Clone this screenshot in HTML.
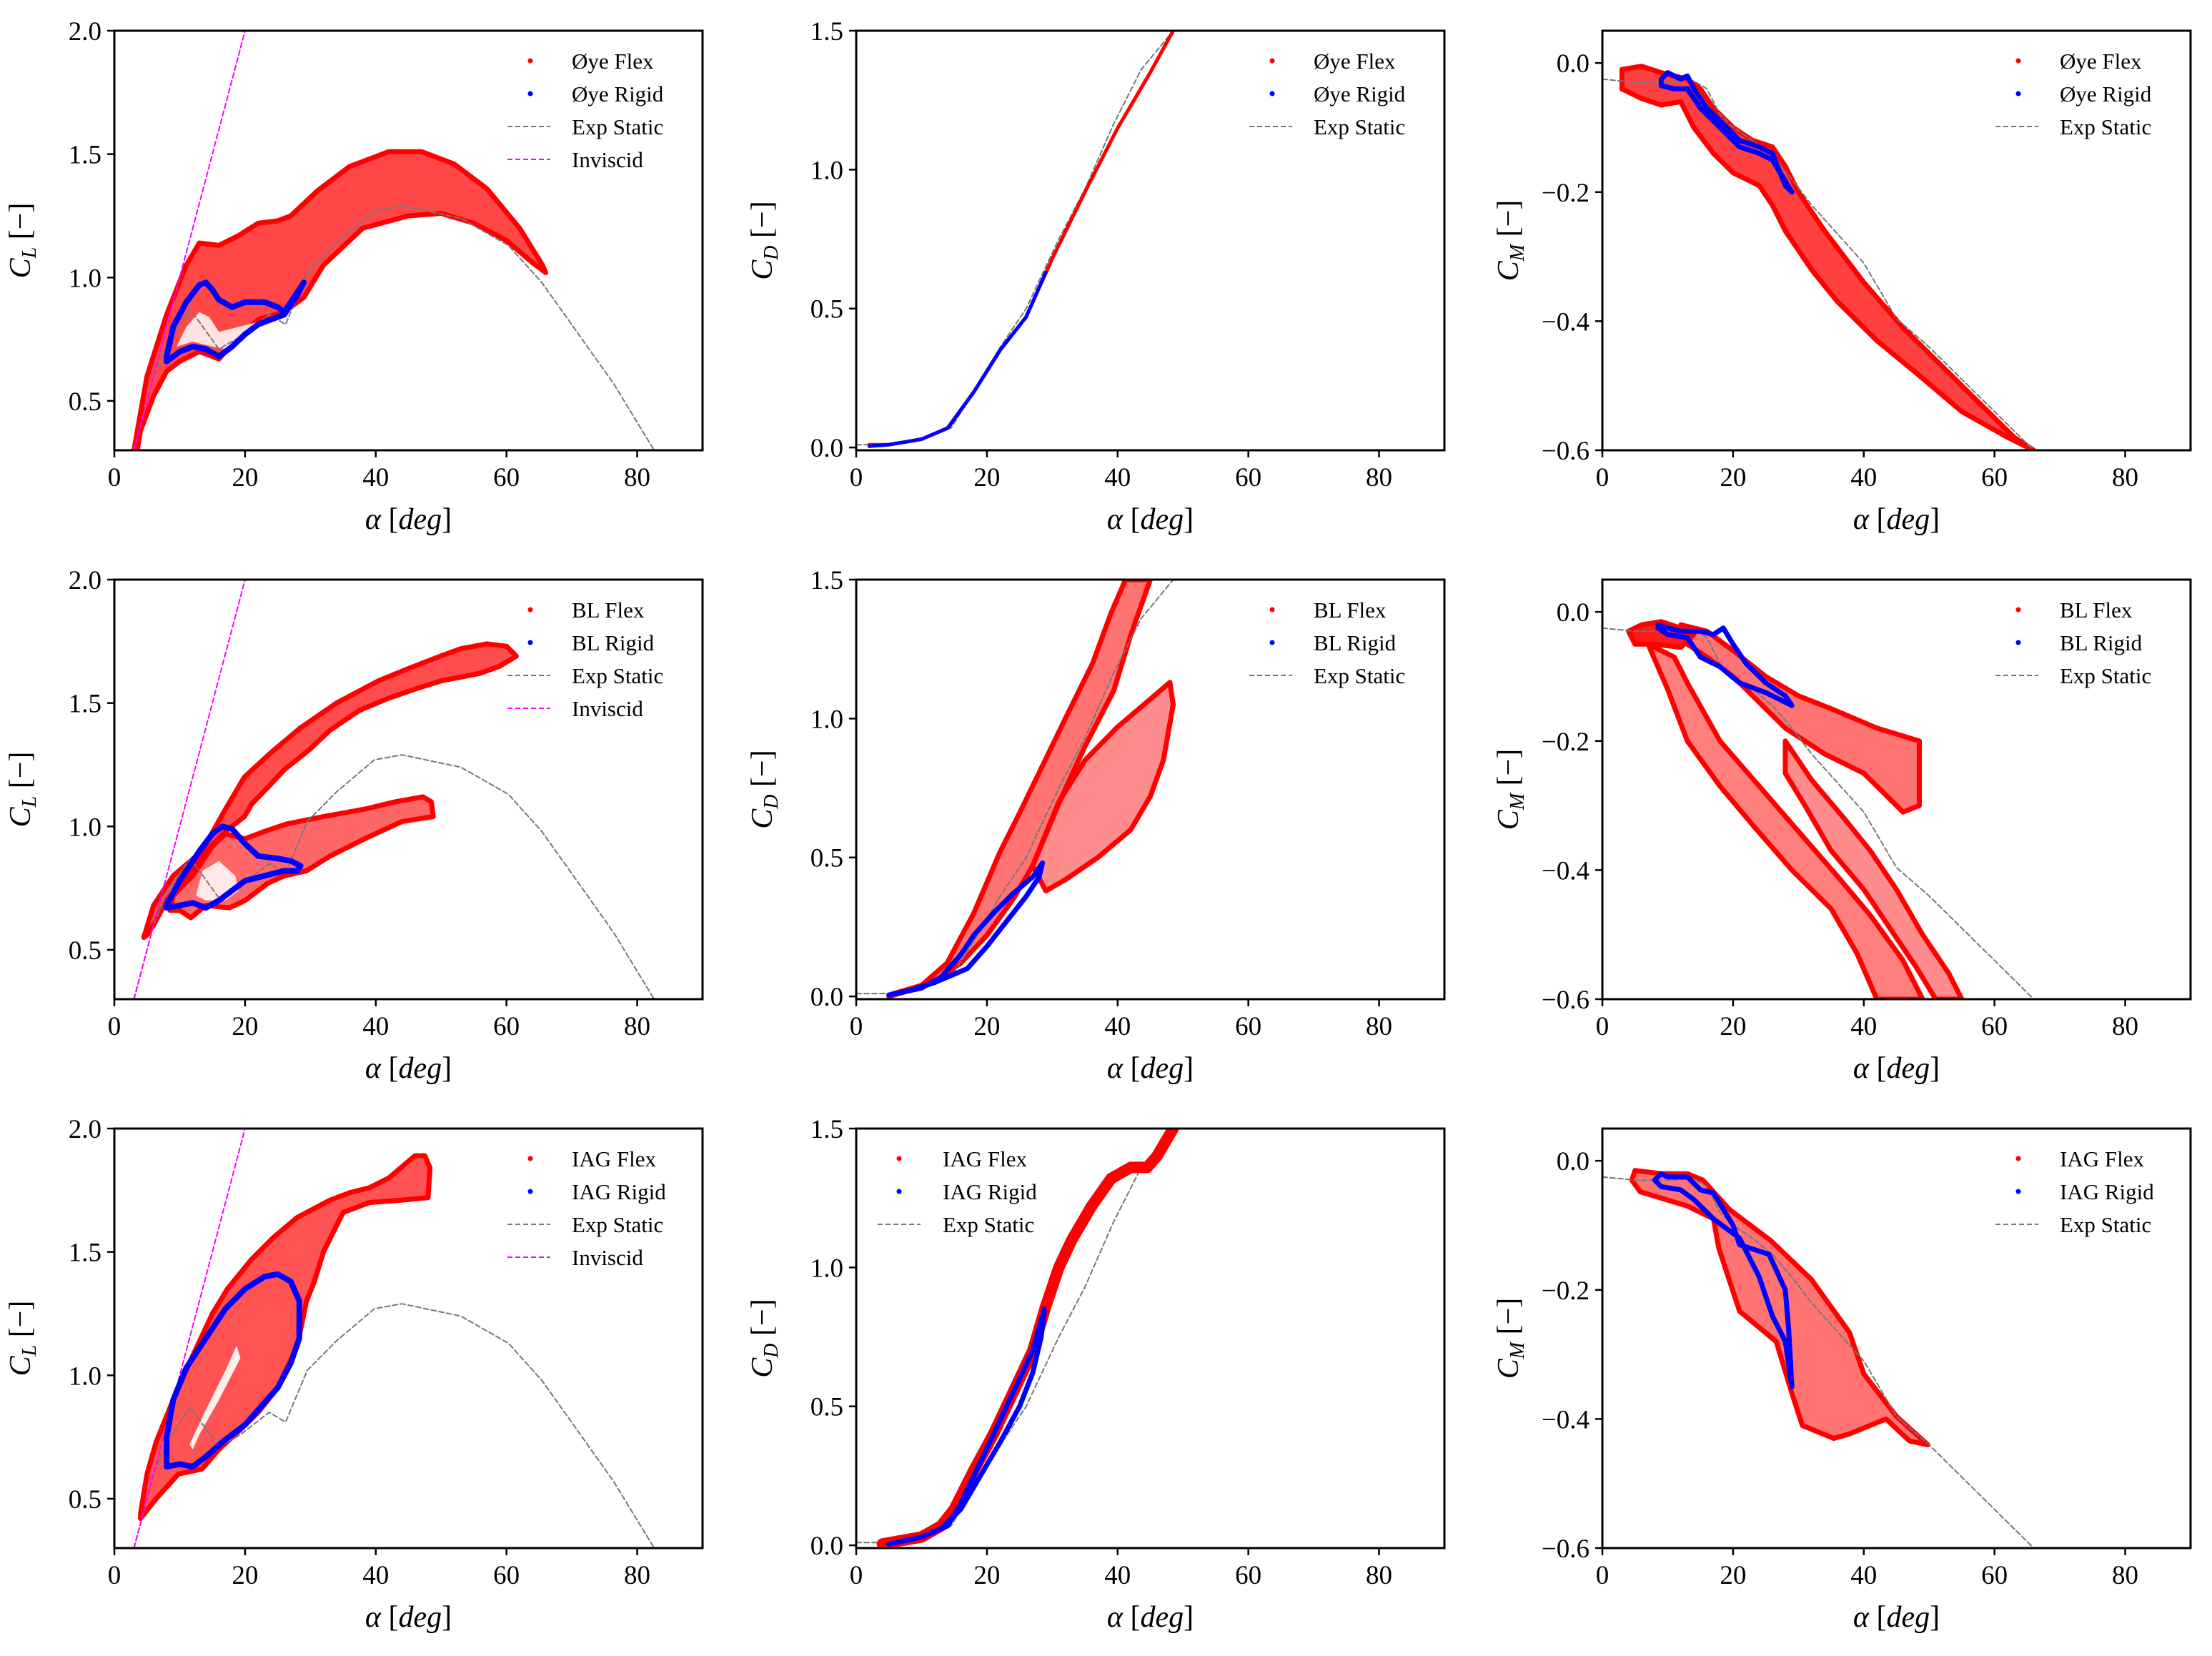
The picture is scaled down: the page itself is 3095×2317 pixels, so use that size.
<!DOCTYPE html>
<html><head><meta charset="utf-8">
<style>
html,body{margin:0;padding:0;background:#fff;}
svg{display:block;font-family:"Liberation Serif",serif;}
</style></head>
<body>
<svg id="fig" xmlns="http://www.w3.org/2000/svg" width="3095" height="2317" viewBox="0 0 3095 2317"></svg>
<script>
// ---------- shared data ----------
const xTicks=[0,20,40,60,80];
const clTicks=[0.5,1.0,1.5,2.0];
const cdTicks=[0.0,0.5,1.0,1.5];
const cmTicks=[0.0,-0.2,-0.4,-0.6];
const clStaticA=[3,6,8,11.6,13,16,19.3,23.7,26.2,29.5,34,39.8,44,53,60.3,65.4,70.5,76.4,82.6];
const clStaticV=[0.3,0.6,0.73,0.87,0.82,0.71,0.76,0.85,0.81,1.02,1.14,1.27,1.29,1.24,1.13,0.98,0.79,0.57,0.3];
const invA=[3,20];
const invV=[0.3,2.0];
const cdStaticA=[0,5,10,14.5,18,22,26,28,31,35,39.3,43.6,45,48.5];
const cdStaticV=[0.01,0.01,0.03,0.07,0.2,0.36,0.5,0.6,0.75,0.93,1.16,1.36,1.4,1.5];
const cmStaticA=[0,5,10,14,16,18,20,23,26,29,32,36,40,45,50,55,60,66];
const cmStaticV=[-0.025,-0.03,-0.03,-0.028,-0.04,-0.08,-0.1,-0.12,-0.145,-0.18,-0.22,-0.265,-0.31,-0.396,-0.44,-0.49,-0.54,-0.6];

// ---------- Øye CL ----------
const oyeClFlexA=[3,5,8,11,13,16,19,22,25,27,31,36,42,47,52,57,62,65.5,66,64,60,55,50,45,38,32,29,26,22,20,17,16,13,10,8,6,4,3.5];
const oyeClFlexV=[0.3,0.6,0.85,1.05,1.14,1.13,1.17,1.22,1.23,1.25,1.35,1.45,1.51,1.51,1.46,1.36,1.2,1.05,1.02,1.06,1.15,1.22,1.26,1.25,1.2,1.05,0.92,0.86,0.83,0.78,0.7,0.67,0.7,0.66,0.62,0.52,0.38,0.3];
const oyeClHoleA=[9.5,11,13,14.5,16,19,22,25,24,20,17,15,12];
const oyeClHoleV=[0.72,0.8,0.86,0.84,0.78,0.8,0.82,0.83,0.8,0.76,0.71,0.72,0.74];
const oyeClRigidA=[8,9,11,13,14,15,16,18,20,23,25,26,27,29,28,26,24,22,20,18,16,14,12,10,8,8];
const oyeClRigidV=[0.68,0.8,0.9,0.97,0.98,0.95,0.91,0.88,0.9,0.9,0.88,0.86,0.9,0.98,0.93,0.85,0.83,0.81,0.77,0.72,0.68,0.71,0.72,0.7,0.66,0.68];
// ---------- Øye CD ----------
const oyeCdFlexA=[2,5,10,14,18,22,26,30,35,40,45,48.5];
const oyeCdFlexV=[0.01,0.01,0.03,0.07,0.2,0.35,0.47,0.68,0.92,1.15,1.35,1.5];
const oyeCdRigidA=[2,5,10,14,18,22,26,29];
const oyeCdRigidV=[0.005,0.01,0.03,0.07,0.2,0.35,0.47,0.63];
// ---------- Øye CM ----------
const oyeCmFlexA=[3,6,9,13,15,17,20,23,26,28,30,34,40,46,52,58,63,66,62,55,48,42,36,32,28,26,24,20,17,14,12,9,6,3];
const oyeCmFlexV=[-0.01,-0.005,-0.015,-0.025,-0.04,-0.07,-0.1,-0.12,-0.13,-0.16,-0.2,-0.26,-0.34,-0.41,-0.47,-0.53,-0.58,-0.6,-0.58,-0.54,-0.48,-0.43,-0.37,-0.32,-0.26,-0.22,-0.19,-0.17,-0.14,-0.1,-0.06,-0.065,-0.055,-0.04];
const oyeCmRigidA=[9,10,12,13,14,16,19,21,24,26,28,29,26,24,21,18,15,13,11,9,9];
const oyeCmRigidV=[-0.025,-0.015,-0.025,-0.02,-0.04,-0.07,-0.1,-0.12,-0.13,-0.14,-0.19,-0.2,-0.15,-0.14,-0.13,-0.1,-0.07,-0.04,-0.04,-0.035,-0.025];
// ---------- BL CL ----------
const blClFlexAA=[4.5,6,9,13.4,17,19.9,24,28.5,34,40.4,45,49.9,53,57,60,61.5,59,55.9,50,46.4,42,37.5,33,29.8,26,23.9,21,19.9,17,14,11,8,6,5];
const blClFlexAV=[0.55,0.68,0.8,0.9,1.07,1.2,1.3,1.4,1.5,1.59,1.64,1.69,1.72,1.74,1.73,1.69,1.65,1.62,1.59,1.56,1.52,1.47,1.39,1.31,1.23,1.17,1.09,1.04,0.98,0.9,0.8,0.7,0.6,0.56];
const blClFlexBA=[9,12,15,17,20,23,26.4,32,38.3,43,47.2,48.5,48.8,44,38.3,33,29.4,26,23.5,20,17.6,14,11.7,10,8.5];
const blClFlexBV=[0.72,0.8,0.92,0.97,0.95,0.98,1.01,1.04,1.07,1.1,1.12,1.1,1.04,1.02,0.95,0.88,0.82,0.8,0.77,0.7,0.67,0.68,0.63,0.66,0.66];
const blClHoleA=[12.5,13.5,16,18.5,19,17,14];
const blClHoleV=[0.72,0.82,0.86,0.8,0.74,0.7,0.7];
const blClRigidA=[8,10,13,15,16.5,18,20,22,25,27,28.5,28,26,23,20,18,16,14,12,10,8,8];
const blClRigidV=[0.68,0.78,0.9,0.97,1.0,0.99,0.93,0.88,0.87,0.86,0.84,0.82,0.82,0.8,0.78,0.74,0.7,0.67,0.69,0.68,0.67,0.68];
// ---------- BL CD ----------
const blCdFlexAA=[5,10,13.9,18,22,25,28.5,32,36.2,39,41.2,45,42,39.4,35,31.1,27,24,20,16,12,8,5];
const blCdFlexAV=[0.005,0.04,0.12,0.3,0.52,0.66,0.83,1.0,1.2,1.38,1.5,1.5,1.3,1.1,0.9,0.7,0.47,0.35,0.22,0.12,0.05,0.02,0.0];
const blCdFlexBA=[27,31,35,40,45,48,48.5,47,45,42,37,32,29];
const blCdFlexBV=[0.47,0.7,0.85,0.97,1.07,1.13,1.05,0.85,0.72,0.6,0.5,0.42,0.38];
const blCdRigidA=[5,10,13,16,18,21,24,27,28.5,28,26,23,20,17,15,12,8,5];
const blCdRigidV=[0.005,0.03,0.07,0.15,0.22,0.3,0.37,0.43,0.48,0.43,0.36,0.27,0.18,0.1,0.08,0.05,0.02,0.005];
// ---------- BL CM ----------
const blCmBlobA=[4,6,9,12,14,12,8,5];
const blCmBlobV=[-0.03,-0.02,-0.015,-0.025,-0.035,-0.055,-0.05,-0.05];
const blCmFanA=[12,16,20,25,30,35,42,48.5,48.5,46,40,34,28,24,20,16,13];
const blCmFanV=[-0.02,-0.03,-0.06,-0.1,-0.13,-0.15,-0.18,-0.2,-0.3,-0.31,-0.25,-0.22,-0.18,-0.14,-0.1,-0.07,-0.05];
const blCmLeftA=[7,10,13,18,23,29,35,39,42,49,46,41,36,30,24,18,13,11];
const blCmLeftV=[-0.05,-0.12,-0.2,-0.27,-0.33,-0.4,-0.46,-0.53,-0.6,-0.6,-0.54,-0.47,-0.41,-0.34,-0.27,-0.2,-0.11,-0.07];
const blCmRightA=[28,32,37,41,45,49,53,55,51,48,44,40,35,31,28];
const blCmRightV=[-0.2,-0.26,-0.32,-0.37,-0.43,-0.5,-0.56,-0.6,-0.6,-0.55,-0.49,-0.43,-0.37,-0.3,-0.25];
const blCmRigidA=[8.5,10,12,15,17,18.5,20,22,25,28,29,25,21,18,15,13,10,8.5];
const blCmRigidV=[-0.02,-0.025,-0.03,-0.03,-0.035,-0.025,-0.05,-0.08,-0.11,-0.13,-0.145,-0.125,-0.11,-0.085,-0.07,-0.04,-0.035,-0.025];
// ---------- IAG CL ----------
const iagClFlexA=[4,5,6.4,9,12,15,17.3,21,24.4,28,33,36,39,42,46,47.5,48.3,48,44,39,35,32,30.6,29.4,28,25,22,19.3,16,13.4,9.8,6.4,4];
const iagClFlexV=[0.44,0.6,0.73,0.9,1.08,1.25,1.35,1.47,1.56,1.64,1.71,1.74,1.76,1.8,1.89,1.89,1.84,1.72,1.71,1.7,1.66,1.5,1.38,1.3,1.12,0.95,0.85,0.78,0.7,0.62,0.6,0.5,0.42];
const iagClHoleA=[11.5,14,17,18.7,19.3,16,13,12];
const iagClHoleV=[0.72,0.86,1.02,1.12,1.07,0.9,0.76,0.7];
const iagClRigidA=[8,8,9,11,14,17,20,23,25,27,28.3,28.3,27,25,22,20,17,14,12,10,8];
const iagClRigidV=[0.63,0.75,0.9,1.03,1.15,1.27,1.35,1.4,1.41,1.38,1.3,1.15,1.05,0.95,0.86,0.8,0.74,0.67,0.63,0.64,0.63];
// ---------- IAG CD ----------
const iagCdFlexA=[4,10,13,15,18,21,24,27,29,31,33,36,39,42,44.5,46,48.5];
const iagCdFlexV=[0.005,0.03,0.07,0.13,0.27,0.4,0.55,0.7,0.86,1.0,1.1,1.22,1.32,1.36,1.36,1.4,1.5];
const iagCdRigidA=[5,10,14,16,19,22,25,27,28.8,28.3,27,25,22,19,16,13,10,5];
const iagCdRigidV=[0.005,0.03,0.07,0.15,0.3,0.45,0.6,0.7,0.85,0.75,0.62,0.5,0.37,0.25,0.13,0.06,0.03,0.005];
// ---------- IAG CM ----------
const iagCmFlexA=[5,9,13,15.4,19.4,25.8,32,37.8,40,45,49.8,47,43.4,37.8,35.4,30.6,29,26.6,21,17.8,17,13,5.8,4.5];
const iagCmFlexV=[-0.015,-0.02,-0.02,-0.03,-0.075,-0.124,-0.184,-0.266,-0.33,-0.396,-0.44,-0.434,-0.4,-0.423,-0.43,-0.41,-0.36,-0.28,-0.233,-0.135,-0.09,-0.07,-0.048,-0.03];
const iagCmRigidA=[8,9,10,13,15,17,20,21,25.5,28,28.5,29,28,26,24,21,17,14,12,9,8];
const iagCmRigidV=[-0.03,-0.02,-0.025,-0.025,-0.045,-0.05,-0.1,-0.13,-0.145,-0.2,-0.26,-0.35,-0.28,-0.24,-0.18,-0.12,-0.09,-0.06,-0.045,-0.04,-0.03];

const NS="http://www.w3.org/2000/svg";
const svg=document.getElementById('fig');
function mk(tag,attrs,parent){const e=document.createElementNS(NS,tag);for(const k in attrs)e.setAttribute(k,attrs[k]);(parent||svg).appendChild(e);return e;}

const colX=[160,1198,2242];
const rowY=[43,811,1579];
const W=823,H=587;

function makePanel(ci,ri,kind,name){
  const x0=colX[ci],y0=rowY[ri];
  const ylim=kind==='cl'?[0.3,2.0]:kind==='cd'?[-0.01,1.5]:[-0.6,0.05];
  const sx=a=>x0+a/90*W;
  const sy=v=>y0+H-(v-ylim[0])/(ylim[1]-ylim[0])*H;
  const g=mk('g',{});
  
  
  const cp='clip'+ci+ri;
  const defs=mk('defs',{},g);
  const c=mk('clipPath',{id:cp},defs);
  mk('rect',{x:x0,y:y0,width:W,height:H},c);
  const plot=mk('g',{'clip-path':'url(#'+cp+')'},g);
  
  
  const pts=(A,V)=>A.map((a,i)=>sx(a).toFixed(1)+','+sy(V[i]).toFixed(1)).join(' ');
  return {g,plot,sx,sy,pts,x0,y0,ylim};
}
function poly(P,A,V,fill,op,nm){
  const e=mk('polygon',{points:P.pts(A,V),fill:fill,'fill-opacity':op,stroke:fill==='#fff'?'none':'#ff0000','stroke-width':fill==='#fff'?0:7,'stroke-linejoin':'round'},P.plot);
  
  
  return e;
}
function line(P,A,V,col,w,dash,nm){
  const a={points:P.pts(A,V),fill:'none',stroke:col,'stroke-width':w,'stroke-linejoin':'round','stroke-linecap':'round'};
  if(dash)a['stroke-dasharray']=dash;
  const e=mk('polyline',a,P.plot);
  
  
  return e;
}
function axes(P,kind,ticks,ylab,sub){
  const {g,sx,sy,x0,y0}=P;
  const fr=mk('rect',{x:x0,y:y0,width:W,height:H,fill:'none',stroke:'#000','stroke-width':3},g);
  
  
  xTicks.forEach(t=>{
    const x=sx(t);
    mk('line',{x1:x,x2:x,y1:y0+H,y2:y0+H+10,stroke:'#000','stroke-width':2.5},g);
    const tx=mk('text',{x:x,y:y0+H+50,'font-size':37,'text-anchor':'middle'},g);
    tx.textContent=String(t);
    
    
  });
  ticks.forEach(t=>{
    const y=sy(t);
    mk('line',{x1:x0-10,x2:x0,y1:y,y2:y,stroke:'#000','stroke-width':2.5},g);
    const tx=mk('text',{x:x0-18,y:y+13,'font-size':37,'text-anchor':'end'},g);
    tx.textContent=(t<0?'\u2212':'')+Math.abs(t).toFixed(1);
    
    
  });
  const xl=mk('text',{x:x0+W/2,y:y0+H+110,'font-size':42,'text-anchor':'middle'},g);
  xl.innerHTML='<tspan font-style="italic">α</tspan> [<tspan font-style="italic">deg</tspan>]';
  
  
  const yx=x0-118,yy=y0+H/2;
  const yl=mk('text',{x:yx,y:yy,'font-size':42,'text-anchor':'middle',transform:'rotate(-90 '+yx+' '+yy+')'},g);
  yl.innerHTML='<tspan font-style="italic">C</tspan><tspan font-style="italic" font-size="28" dy="8">'+sub+'</tspan><tspan dy="-8"> [−]</tspan>';
  
  
}
function legend(P,labels,left){
  const {g,x0,y0}=P;
  const lg=mk('g',{},g);
  
  
  const mx=left?x0+60:x0+582, tx=left?x0+121:x0+640, l1=left?x0+30:x0+550, l2=left?x0+90:x0+610;
  labels.forEach((lab,i)=>{
    const y=y0+42+i*46;
    if(i<2){
      const d=mk('circle',{cx:mx,cy:y,r:3.5,fill:i===0?'#ff0000':'#0000ff'},lg);
      
      
    }else{
      const d=mk('line',{x1:l1,x2:l2,y1:y,y2:y,stroke:i===2?'#777':'#ff00ff','stroke-width':2,'stroke-dasharray':'7,4'},lg);
      
      
    }
    const t=mk('text',{x:tx,y:y+11,'font-size':31},lg);
    t.textContent=lab;
    
    
  });
}

// ---- Row 1: Øye ----
let P=makePanel(0,0,'cl','oye-cl');
poly(P,oyeClFlexA,oyeClFlexV,'#ff0000',0.72,'oye-flex-cl');
poly(P,oyeClHoleA,oyeClHoleV,'#fff',0.85,'oye-flex-cl-gap');
line(P,clStaticA,clStaticV,'#777',2,'7,4','exp-static-cl');
line(P,invA,invV,'#ff00ff',2,'7,4','inviscid-line');
line(P,oyeClRigidA,oyeClRigidV,'#0000ff',8,null,'oye-rigid-cl');
axes(P,'cl',clTicks,'','L');
legend(P,['Øye Flex','Øye Rigid','Exp Static','Inviscid'],false);

P=makePanel(1,0,'cd','oye-cd');
line(P,cdStaticA,cdStaticV,'#777',2,'7,4','exp-static-cd');
line(P,oyeCdFlexA,oyeCdFlexV,'#ff0000',5,null,'oye-flex-cd');
line(P,oyeCdRigidA,oyeCdRigidV,'#0000ff',5,null,'oye-rigid-cd');
axes(P,'cd',cdTicks,'','D');
legend(P,['Øye Flex','Øye Rigid','Exp Static'],false);

P=makePanel(2,0,'cm','oye-cm');
poly(P,oyeCmFlexA,oyeCmFlexV,'#ff0000',0.75,'oye-flex-cm');
line(P,cmStaticA,cmStaticV,'#777',2,'7,4','exp-static-cm');
line(P,oyeCmRigidA,oyeCmRigidV,'#0000ff',7,null,'oye-rigid-cm');
axes(P,'cm',cmTicks,'','M');
legend(P,['Øye Flex','Øye Rigid','Exp Static'],false);

// ---- Row 2: BL ----
P=makePanel(0,1,'cl','bl-cl');
poly(P,blClFlexAA,blClFlexAV,'#ff0000',0.7,'bl-flex-cl-upper');
poly(P,blClFlexBA,blClFlexBV,'#ff0000',0.6,'bl-flex-cl-lower');
poly(P,blClHoleA,blClHoleV,'#fff',0.85,'bl-flex-cl-gap');
line(P,clStaticA,clStaticV,'#777',2,'7,4','exp-static-cl');
line(P,invA,invV,'#ff00ff',2,'7,4','inviscid-line');
line(P,blClRigidA,blClRigidV,'#0000ff',8,null,'bl-rigid-cl');
axes(P,'cl',clTicks,'','L');
legend(P,['BL Flex','BL Rigid','Exp Static','Inviscid'],false);

P=makePanel(1,1,'cd','bl-cd');
poly(P,blCdFlexAA,blCdFlexAV,'#ff0000',0.55,'bl-flex-cd-upper');
poly(P,blCdFlexBA,blCdFlexBV,'#ff0000',0.45,'bl-flex-cd-fan');
line(P,cdStaticA,cdStaticV,'#777',2,'7,4','exp-static-cd');
line(P,blCdRigidA,blCdRigidV,'#0000ff',7,null,'bl-rigid-cd');
axes(P,'cd',cdTicks,'','D');
legend(P,['BL Flex','BL Rigid','Exp Static'],false);

P=makePanel(2,1,'cm','bl-cm');
poly(P,blCmBlobA,blCmBlobV,'#ff0000',0.9,'bl-flex-cm-blob');
poly(P,blCmFanA,blCmFanV,'#ff0000',0.55,'bl-flex-cm-fan');
poly(P,blCmLeftA,blCmLeftV,'#ff0000',0.5,'bl-flex-cm-left');
poly(P,blCmRightA,blCmRightV,'#ff0000',0.45,'bl-flex-cm-right');
line(P,cmStaticA,cmStaticV,'#777',2,'7,4','exp-static-cm');
line(P,blCmRigidA,blCmRigidV,'#0000ff',7,null,'bl-rigid-cm');
axes(P,'cm',cmTicks,'','M');
legend(P,['BL Flex','BL Rigid','Exp Static'],false);

// ---- Row 3: IAG ----
P=makePanel(0,2,'cl','iag-cl');
poly(P,iagClFlexA,iagClFlexV,'#ff0000',0.68,'iag-flex-cl');
poly(P,iagClHoleA,iagClHoleV,'#fff',0.9,'iag-flex-cl-gap');
line(P,clStaticA,clStaticV,'#777',2,'7,4','exp-static-cl');
line(P,invA,invV,'#ff00ff',2,'7,4','inviscid-line');
line(P,iagClRigidA,iagClRigidV,'#0000ff',8,null,'iag-rigid-cl');
axes(P,'cl',clTicks,'','L');
legend(P,['IAG Flex','IAG Rigid','Exp Static','Inviscid'],false);

P=makePanel(1,2,'cd','iag-cd');
line(P,cdStaticA,cdStaticV,'#777',2,'7,4','exp-static-cd');
line(P,iagCdFlexA,iagCdFlexV,'#ff0000',16,null,'iag-flex-cd');
line(P,iagCdRigidA,iagCdRigidV,'#0000ff',7,null,'iag-rigid-cd');
axes(P,'cd',cdTicks,'','D');
legend(P,['IAG Flex','IAG Rigid','Exp Static'],true);

P=makePanel(2,2,'cm','iag-cm');
poly(P,iagCmFlexA,iagCmFlexV,'#ff0000',0.55,'iag-flex-cm');
line(P,cmStaticA,cmStaticV,'#777',2,'7,4','exp-static-cm');
line(P,iagCmRigidA,iagCmRigidV,'#0000ff',7,null,'iag-rigid-cm');
axes(P,'cm',cmTicks,'','M');
legend(P,['IAG Flex','IAG Rigid','Exp Static'],false);
</script>
</body></html>
